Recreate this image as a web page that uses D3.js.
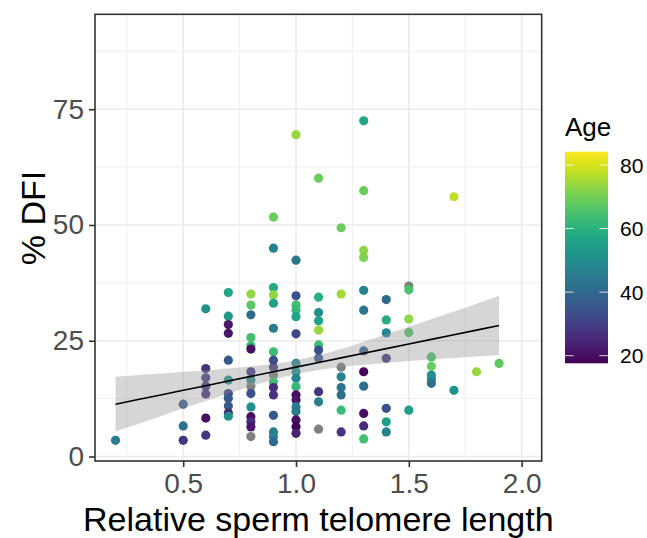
<!DOCTYPE html>
<html><head><meta charset="utf-8">
<script src="https://cdn.jsdelivr.net/npm/d3@7"></script>
<style>body{margin:0;background:#fff}svg{display:block}text{font-family:"Liberation Sans",Arial,sans-serif}</style>
</head><body><svg id="c" width="647" height="538"></svg>
<script>
// ---- data ----
const telomere = [
 0.2,
 0.5,0.5,0.5,
 0.6,0.6,0.6,0.6,0.6,0.6,0.6,
 0.7,0.7,0.7,0.7,0.7,0.7,0.7,0.7,0.7,0.7,0.7,
 0.8,0.8,0.8,0.8,0.8,0.8,0.8,0.8,0.8,0.8,0.8,0.8,0.8,0.8,0.8,
 0.9,0.9,0.9,0.9,0.9,0.9,0.9,0.9,0.9,0.9,0.9,0.9,0.9,0.9,0.9,0.9,0.9,
 1.0,1.0,1.0,1.0,1.0,1.0,1.0,1.0,1.0,1.0,1.0,1.0,1.0,1.0,1.0,1.0,1.0,1.0,
 1.1,1.1,1.1,1.1,1.1,1.1,1.1,1.1,1.1,1.1,1.1,
 1.2,1.2,1.2,1.2,1.2,1.2,1.2,1.2,
 1.3,1.3,1.3,1.3,1.3,1.3,1.3,1.3,1.3,1.3,1.3,1.3,
 1.4,1.4,1.4,1.4,1.4,1.4,1.4,
 1.5,1.5,1.5,1.5,1.5,
 1.6,1.6,1.6,1.6,1.6,
 1.7,1.7,
 1.8,
 1.9
];
const dfi = [
 3.5,
 11.3,6.6,3.5,
 31.9,19.0,17.0,15.2,13.5,8.3,4.6,
 35.4,30.3,28.5,26.6,20.8,16.5,13.6,12.6,10.9,9.4,8.7,
 35.1,32.7,30.6,25.7,23.9,23.2,18.3,16.5,15.1,13.6,10.7,8.6,7.5,6.4,4.3,
 51.7,45.0,36.5,34.9,33.1,27.7,22.6,20.8,19.3,17.6,16.1,14.9,13.3,8.9,5.3,4.3,3.2,
 69.5,42.4,34.7,32.7,31.6,30.2,26.5,20.1,18.3,16.9,15.1,13.3,12.2,10.7,9.7,7.9,6.4,5.0,
 60.1,34.4,31.1,29.3,27.3,24.1,23.0,21.2,14.0,11.8,5.9,
 49.4,35.1,19.3,17.2,14.9,13.3,10.0,5.3,
 72.5,57.4,44.5,43.0,35.9,31.6,22.8,18.3,15.2,9.3,6.6,3.8,
 33.9,29.5,26.7,21.2,10.4,7.5,5.3,
 36.8,36.0,29.7,26.8,10.0,
 21.5,19.5,17.6,16.7,15.8,
 56.1,14.3,
 18.3,
 20.1
];
const age = [
 45,
 36,43,28,
 51,28,30,28,26,20,28,
 57,53,22,22,36,50,30,36,36,24,51,
 73,67,40,64,62,20,28,50,null,34,51,20,26,22,null,
 69,47,58,73,56,45,63,34,28,null,64,26,28,36,45,47,40,
 74,44,34,64,62,57,32,48,50,48,62,20,22,45,45,20,18,24,
 69,60,50,56,74,64,34,36,28,46,null,
 69,75,null,48,44,42,63,27,
 57,69,73,71,47,44,38,18,42,20,26,64,
 40,59,48,28,34,55,47,
 null,65,73,66,55,
 66,69,51,50,42,
 78,52,
 74,
 68
];
// linear-model fit with its confidence band
const bandX    = [0.2,0.3,0.4,0.5,0.6,0.7,0.8,0.9,1.0,1.1,1.2,1.3,1.4,1.5,1.6,1.7,1.8,1.9];
const bandFit  = [11.3,12.3,13.3,14.3,15.3,16.3,17.3,18.3,19.3,20.3,21.3,22.3,23.3,24.3,25.3,26.3,27.3,28.3];
const bandLow  = [5.4,7.0,8.7,10.4,12.0,13.6,15.2,16.6,17.8,18.7,19.3,19.8,20.2,20.6,21.0,21.3,21.6,21.9];
const bandHigh = [17.2,17.6,17.9,18.3,18.6,19.0,19.5,20.0,20.8,21.9,23.2,24.8,26.4,28.0,29.7,31.3,33.0,34.7];
const xTicks = [0.5,1.0,1.5,2.0];
const xMinor = [0.25,0.75,1.25,1.75];
const yTicks = [0,25,50,75];
const yMinor = [12.5,37.5,62.5,87.5];
const ageTicks = [20,40,60,80];
const ageRange = [17.6,84.2];

// ---- drawing ----
const svg = d3.select("#c");
svg.append("rect").attr("width",647).attr("height",538).attr("fill","#fff");
const L=95, R=541.7, T=14.3, B=461;
const x = d3.scaleLinear().domain([0.109,2.089]).range([L,R]);
const y = d3.scaleLinear().domain([-0.97,95.5]).range([B,T]);
const col = d3.scaleSequential(d3.interpolateViridis).domain(ageRange);

const g = svg.append("g");
// grid
g.selectAll(".xm").data(xMinor).enter().append("line")
 .attr("x1",d=>x(d)).attr("x2",d=>x(d)).attr("y1",T).attr("y2",B)
 .attr("stroke","#ebebeb").attr("stroke-width",0.8);
g.selectAll(".ym").data(yMinor).enter().append("line")
 .attr("y1",d=>y(d)).attr("y2",d=>y(d)).attr("x1",L).attr("x2",R)
 .attr("stroke","#ebebeb").attr("stroke-width",0.8);
g.selectAll(".xM").data(xTicks).enter().append("line")
 .attr("x1",d=>x(d)).attr("x2",d=>x(d)).attr("y1",T).attr("y2",B)
 .attr("stroke","#ebebeb").attr("stroke-width",1.6);
g.selectAll(".yM").data(yTicks).enter().append("line")
 .attr("y1",d=>y(d)).attr("y2",d=>y(d)).attr("x1",L).attr("x2",R)
 .attr("stroke","#ebebeb").attr("stroke-width",1.6);

// points
const pts = telomere.map((t,i)=>({t, v:dfi[i], a:age[i]}));
g.selectAll(".pt").data(pts).enter().append("circle")
 .attr("cx",d=>x(d.t)).attr("cy",d=>y(d.v)).attr("r",4.6)
 .attr("fill",d=>d.a==null?"#7f7f7f":col(d.a));

// ribbon + fit
const band = bandX.map((b,i)=>({x:b,lo:bandLow[i],hi:bandHigh[i],f:bandFit[i]}));
g.append("path").datum(band)
 .attr("d",d3.area().x(d=>x(d.x)).y0(d=>y(d.lo)).y1(d=>y(d.hi)).curve(d3.curveMonotoneX))
 .attr("fill","#999999").attr("fill-opacity",0.4);
g.append("path").datum(band)
 .attr("d",d3.line().x(d=>x(d.x)).y(d=>y(d.f)))
 .attr("fill","none").attr("stroke","#000").attr("stroke-width",1.6);

// border
g.append("rect").attr("x",L).attr("y",T).attr("width",R-L).attr("height",B-T)
 .attr("fill","none").attr("stroke","#333333").attr("stroke-width",1.6);

// axes
const xa = svg.append("g").attr("transform",`translate(0,${B})`)
 .call(d3.axisBottom(x).tickValues(xTicks).tickFormat(d3.format(".1f")).tickSize(6).tickPadding(5));
const ya = svg.append("g").attr("transform",`translate(${L},0)`)
 .call(d3.axisLeft(y).tickValues(yTicks).tickFormat(d3.format("d")).tickSize(6).tickPadding(5));
[xa,ya].forEach(a=>{
  a.select(".domain").remove();
  a.selectAll(".tick line").attr("stroke","#333333").attr("stroke-width",1.6);
  a.selectAll(".tick text").attr("fill","#4d4d4d").style("font-size","28px")
   .style("font-family","'Liberation Sans',Arial,sans-serif");
});
xa.selectAll(".tick text").attr("dy","0.75em");

svg.append("text").attr("x",(L+R)/2).attr("y",531).attr("text-anchor","middle")
 .style("font-size","34px").attr("fill","#000").text("Relative sperm telomere length");
svg.append("text").attr("transform",`translate(45,218) rotate(-90)`).attr("text-anchor","middle")
 .style("font-size","34px").attr("fill","#000").text("% DFI");

// legend
const lg = svg.append("g");
const bx=565, bw=43, bt=151.7, bb=363.3;
const defs = svg.append("defs");
const grad = defs.append("linearGradient").attr("id","vir").attr("x1",0).attr("y1",1).attr("x2",0).attr("y2",0);
d3.range(0,1.0001,0.05).forEach(s=>grad.append("stop").attr("offset",s).attr("stop-color",d3.interpolateViridis(s)));
const ay = d3.scaleLinear().domain(ageRange).range([bb,bt]);
lg.append("rect").attr("x",bx).attr("y",bt).attr("width",bw).attr("height",bb-bt).attr("fill","url(#vir)");
ageTicks.forEach(a=>{
  lg.append("line").attr("x1",bx).attr("x2",bx+bw/5).attr("y1",ay(a)).attr("y2",ay(a)).attr("stroke","#fff").attr("stroke-opacity",0.8).attr("stroke-width",1);
  lg.append("line").attr("x1",bx+bw*4/5).attr("x2",bx+bw).attr("y1",ay(a)).attr("y2",ay(a)).attr("stroke","#fff").attr("stroke-opacity",0.8).attr("stroke-width",1);
  lg.append("text").attr("x",620).attr("y",ay(a)).attr("dy","0.36em").style("font-size","21px").attr("fill","#000").text(a);
});
lg.append("text").attr("x",565).attr("y",136).style("font-size","26px").attr("fill","#000").text("Age");
</script></body></html>
